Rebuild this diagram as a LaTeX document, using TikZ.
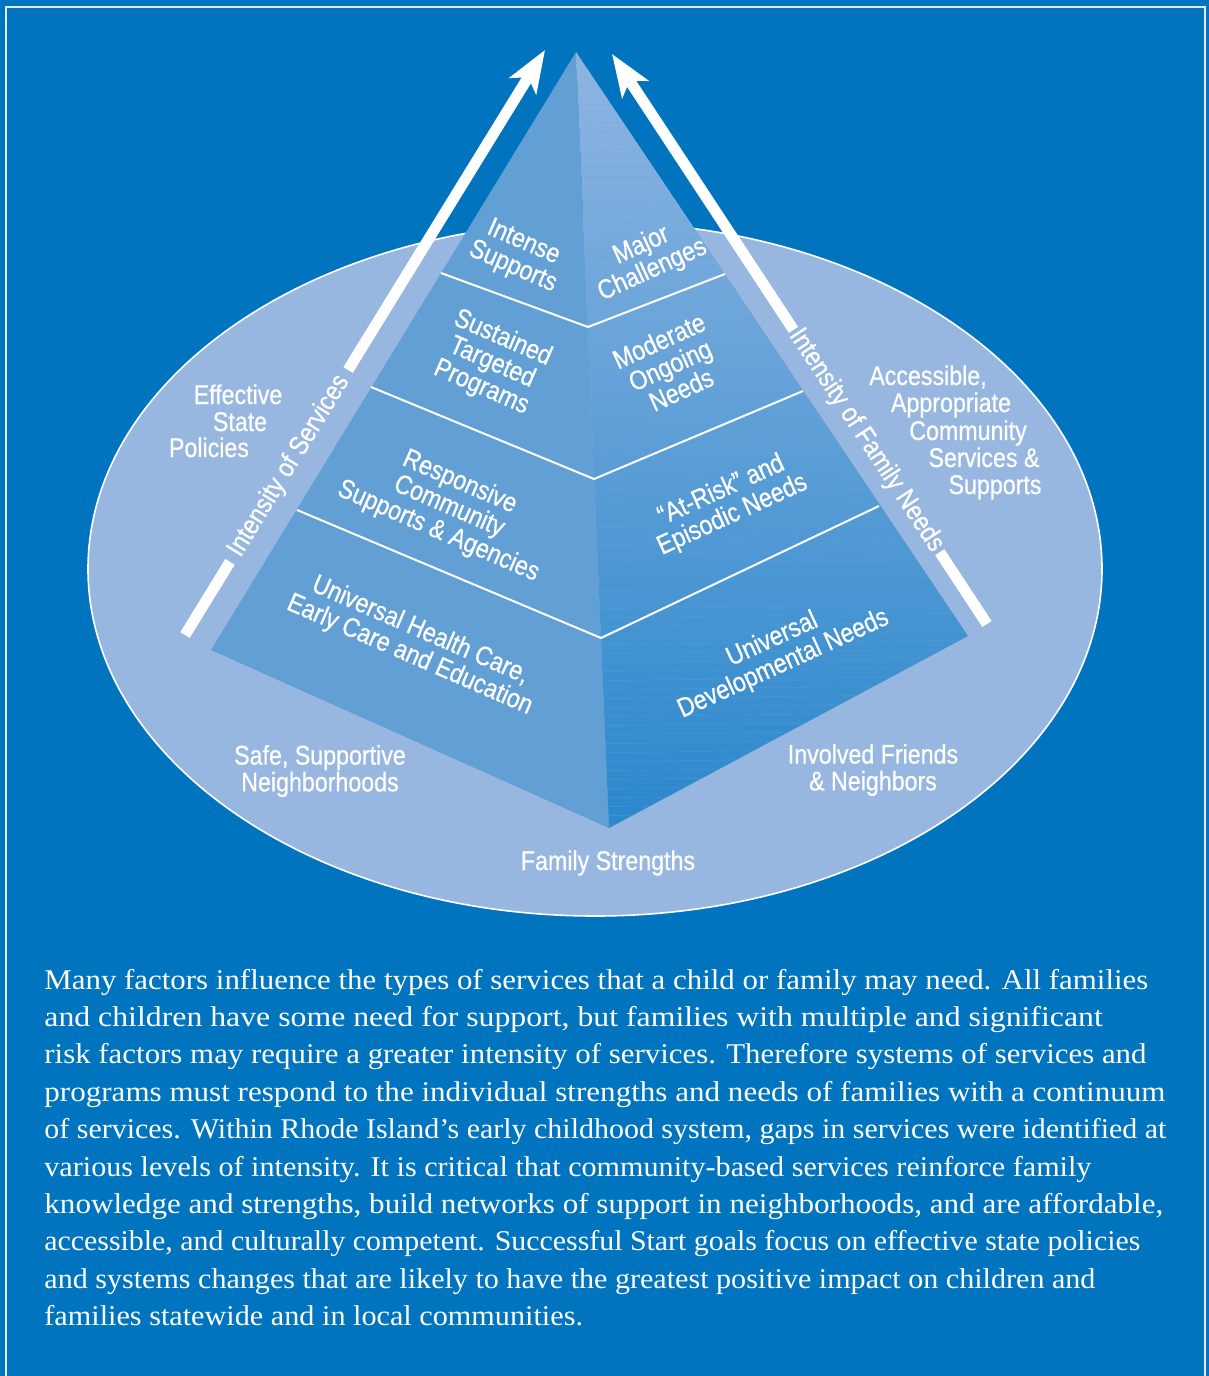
\documentclass[tikz,border=0pt]{standalone}
\usepackage{graphicx}
\usepackage{fontspec}
\setmainfont{Liberation Serif}
\newfontfamily\bodyfont[FakeStretch=1.08]{Liberation Serif}
\newfontfamily\labfont[FakeStretch=0.86,FakeBold=0.6]{Liberation Sans}
\usetikzlibrary{arrows.meta,calc}
\definecolor{bgblue}{RGB}{0,116,191}
\definecolor{ellblue}{RGB}{151,183,224}
\definecolor{leftface}{RGB}{98,159,213}
\definecolor{rtop}{RGB}{143,181,226}
\definecolor{rmid}{RGB}{100,160,215}
\definecolor{rbot}{RGB}{42,136,204}
\definecolor{stripecol}{RGB}{106,163,216}
\definecolor{framecol}{RGB}{225,235,245}
\begin{document}
\begin{tikzpicture}[x=0.5pt,y=-0.5pt,
  lab/.style={text=white,font=\labfont\fontsize{13.5}{13.4}\selectfont,align=center,inner sep=0pt},
  tier/.style={draw=white,line width=1pt},
  bigarrow/.style={draw=white,line width=5.5pt},
  headtip/.style={-{Stealth[length=21pt,width=15.5pt,inset=5pt]}},
  body/.style={text=white,font=\bodyfont\fontsize{14.3}{18.7}\selectfont,anchor=base west,inner sep=0pt}]
\fill[bgblue] (0,0) rectangle (1209,1376);
\useasboundingbox (0,0) rectangle (1209,1376);
\draw[framecol,line width=0.8pt] (6,1376) -- (6,7) -- (1205,7) -- (1205,1376);
% ellipse
\draw[fill=ellblue,draw=white,line width=0.8pt] (595,569) ellipse [x radius=507,y radius=347];
% pyramid
\coordinate (apex) at (576,52);
\coordinate (bl) at (211,650);
\coordinate (bf) at (609,828);
\coordinate (br) at (968,636);
\fill[leftface] (apex) -- (bl) -- (bf) -- cycle;
\shade[top color=rtop, middle color=rmid, bottom color=rbot] (apex) -- (bf) -- (br) -- cycle;
\begin{scope}
\clip (apex) -- (bf) -- (br) -- cycle;
\foreach \yy in {60,69,...,840} \draw[stripecol,opacity=0.3,line width=0.4pt] (575,\yy) -- (975,\yy-5);
\end{scope}
% tier lines
\draw[tier] (441,273) -- (588,327) -- (725,274);
\draw[tier] (371,387) -- (594,479) -- (803,391);
\draw[tier] (297,510) -- (601,638) -- (879,506);
% arrows
\coordinate (lt) at (185,635);
\coordinate (lh) at (545,50);
\coordinate (rt) at (987,624);
\coordinate (rh) at (612,54);
\draw[bigarrow] (lt) -- ($(lt)!0.125!(lh)$);
\draw[bigarrow,headtip] ($(lt)!0.453!(lh)$) -- (lh);
\draw[bigarrow] (rt) -- ($(rt)!0.126!(rh)$);
\draw[bigarrow,headtip] ($(rt)!0.516!(rh)$) -- (rh);
\node[lab,rotate=58.4] (ints) at ($(lt)!0.289!(lh)$) {Intensity of Services};
\node[lab,rotate=-56.7] (intf) at ($(rt)!0.322!(rh)$) {Intensity of Family Needs};
% pyramid labels
\node[lab,rotate=-23.5] (t1l) at (518,255) {Intense\\Supports};
\node[lab,rotate=24.5] (t1r) at (647,258) {Major\\Challenges};
\node[lab,rotate=-23.5] (t2l) at (492,363) {Sustained\\Targeted\\Programs};
\node[lab,rotate=24.5] (t2r) at (670,365) {Moderate\\Ongoing\\Needs};
\node[lab,rotate=-23.5] (t3l) at (449,507) {Responsive\\Community\\Supports \& Agencies};
\node[lab,rotate=24.5] (t3r) at (727,503) {“At-Risk” and\\Episodic Needs};
\node[lab,rotate=-23.5] (t4l) at (415,643) {Universal Health Care,\\Early Care and Education};
\node[lab,rotate=24.5] (t4r) at (778,652) {Universal\\Developmental Needs};
% outside labels
\node[lab,anchor=base] (eff1) at (238,404) {Effective};
\node[lab,anchor=base] (eff2) at (240,431) {State};
\node[lab,anchor=base] (eff3) at (209,457) {Policies};
\node[lab,anchor=base] (acc1) at (928,385) {Accessible,};
\node[lab,anchor=base] (acc2) at (951,412) {Appropriate};
\node[lab,anchor=base] (acc3) at (968,440) {Community};
\node[lab,anchor=base] (acc4) at (984,467) {Services \&};
\node[lab,anchor=base] (acc5) at (995,494) {Supports};
\node[lab] (safe) at (320,771) {Safe, Supportive\\Neighborhoods};
\node[lab] (inv) at (873,770) {Involved Friends\\\& Neighbors};
\node[lab,anchor=base] (fam) at (608,870) {Family Strengths};
% body text
\node[body] (b1) at (44,989) {Many factors influence the types of services that a child or family may need. All families};
\node[body] (b2) at (44,1026.4) {\scalebox{1.029}[1]{and children have some need for support, but families with multiple and significant}};
\node[body] (b3) at (44,1063.8) {risk factors may require a greater intensity of services. Therefore systems of services and};
\node[body] (b4) at (44,1101.2) {\scalebox{1.006}[1]{programs must respond to the individual strengths and needs of families with a continuum}};
\node[body] (b5) at (44,1138.6) {\scalebox{0.970}[1]{of services. Within Rhode Island’s early childhood system, gaps in services were identified at}};
\node[body] (b6) at (44,1176) {\scalebox{0.976}[1]{various levels of intensity. It is critical that community-based services reinforce family}};
\node[body] (b7) at (44,1213.4) {\scalebox{1.007}[1]{knowledge and strengths, build networks of support in neighborhoods, and are affordable,}};
\node[body] (b8) at (44,1250.8) {\scalebox{0.967}[1]{accessible, and culturally competent. Successful Start goals focus on effective state policies}};
\node[body] (b9) at (44,1288.2) {\scalebox{0.974}[1]{and systems changes that are likely to have the greatest positive impact on children and}};
\node[body] (b10) at (44,1325.6) {\scalebox{0.978}[1]{families statewide and in local communities.}};
\end{tikzpicture}
\end{document}
